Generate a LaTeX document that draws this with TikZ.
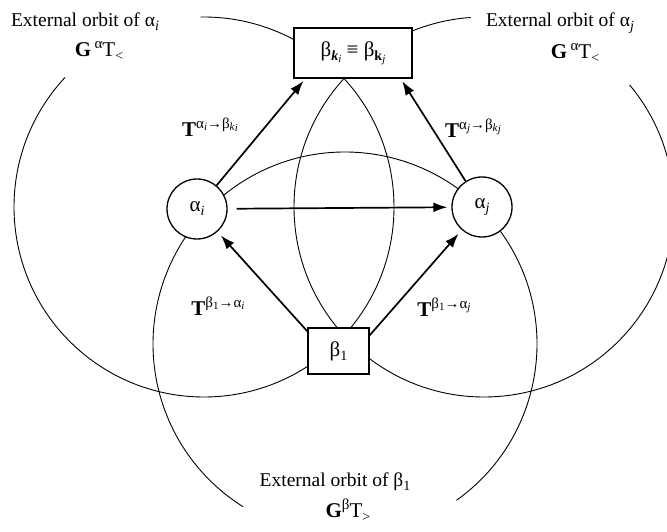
\documentclass[tikz,border=0pt]{standalone}
\usepackage{fontspec}
\setmainfont{Liberation Serif}
\usetikzlibrary{arrows.meta,calc}
\newcommand\hsup[2][8pt]{\raisebox{#1}{\fontsize{15}{15}\selectfont #2}}
\newcommand\hsub[2][-4pt]{\raisebox{#1}{\fontsize{14}{14}\selectfont #2}}
\newcommand\hsubb[2][-2pt]{\raisebox{#1}{\fontsize{11}{11}\selectfont #2}}
\begin{document}
\begin{tikzpicture}[x=1pt,y=1pt,
  orbit/.style={line width=0.9pt},
  arr/.style={line width=1.7pt,-{Latex[length=14pt,width=10pt]}},
  box/.style={draw,line width=1.3pt,fill=white,inner sep=0pt},
  st/.style={draw,circle,line width=1.3pt,fill=white,minimum size=60pt,inner sep=0pt},
  lab/.style={inner sep=0pt,font=\fontsize{21}{24}\selectfont},
  big/.style={inner sep=0pt,font=\fontsize{19.5}{23}\selectfont}]
\useasboundingbox (0,0) rectangle (667,531);
% orbits
\draw[orbit] ([shift={(137:190)}]204,324) arc[start angle=137,end angle=451,radius=190];
\draw[orbit] ([shift={(94:190)}]484,324) arc[start angle=94,end angle=400,radius=190];
\draw[orbit] ([shift={(305.5:192)}]345,187) arc[start angle=305.5,end angle=598,radius=192];
% nodes
\node[box,minimum width=118pt,minimum height=50pt,lab] (tb) at (353,478)
  {β\hsub{\textbf{\textit{k}}\hsubb{\textit{i}}}\ ≡\ β\hsub{\textbf{k}\hsubb{\textit{j}}}};
\node[box,minimum width=61pt,minimum height=46pt,lab] (b1) at (338.5,180) {β\hsub{1}};
\node[st,lab] (ai) at (197,322) {α\hsub{\textit{i}}};
\node[st,lab] (aj) at (482,324) {α\hsub{\textit{j}}};
% arrows
\draw[arr,shorten >=3pt] (ai) -- ($(tb.south west)+(12,0)$);
\draw[arr,shorten >=3pt] (aj) -- ($(tb.south east)+(-12,0)$);
\draw[arr,shorten <=9pt,shorten >=4pt] (ai) -- (aj);
\draw[arr,shorten >=5pt] ($(b1.north west)+(0,-4)$) -- (ai);
\draw[arr,shorten >=5pt] ($(b1.north east)+(0,-8)$) -- (aj);
% labels
\node[lab] (l1) at (210,404) {\textbf{T}\hsup{α\hsubb{\textit{i}}→β\hsubb{\textit{k}\hsubb[-1pt]{\textit{i}}}}};
\node[lab] (l2) at (473,403) {\textbf{T}\hsup{α\hsubb{\textit{j}}→β\hsubb{\textit{k}\hsubb[-1pt]{\textit{j}}}}};
\node[lab] (l3) at (218,225) {\textbf{T}\hsup{β\hsubb{1}→α\hsubb{\textit{i}}}};
\node[lab] (l4) at (444,224) {\textbf{T}\hsup{β\hsubb{1}→α\hsubb{\textit{j}}}};
\node[big] (o1) at (85,509) {External orbit of α\hsub{\textit{i}}};
\node[lab] (g1) at (99,480) {\textbf{G}\,\hsup{α}T\hsub{<}};
\node[big] (o2) at (560,508) {External orbit of α\hsub{\textit{j}}};
\node[lab] (g2) at (575,478) {\textbf{G}\,\hsup{α}T\hsub{<}};
\node[big] (o3) at (335,49) {External orbit of β\hsub{1}};
\node[lab] (g3) at (348,21) {\textbf{G}\hsup{β}T\hsub{>}};
\end{tikzpicture}
\end{document}
